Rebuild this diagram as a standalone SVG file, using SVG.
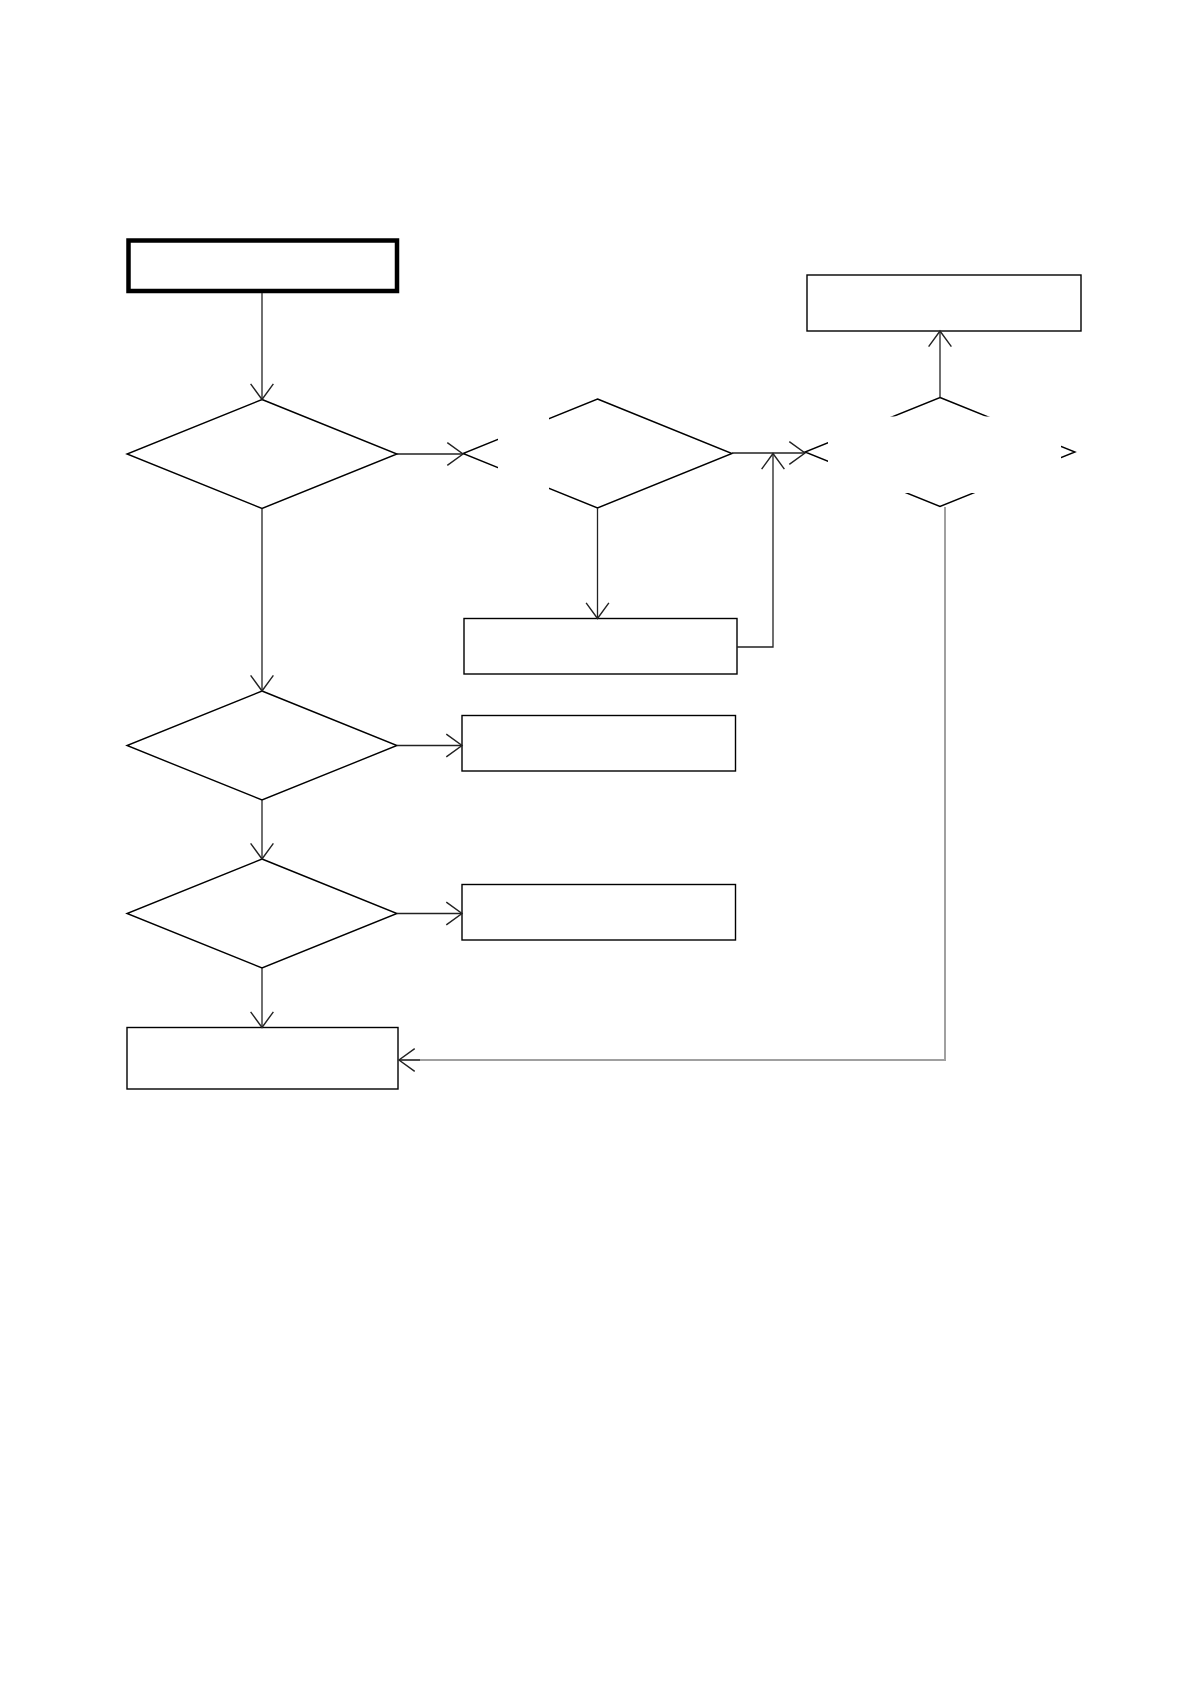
<svg xmlns="http://www.w3.org/2000/svg" width="1191" height="1685" viewBox="0 0 1191 1685">
<style>
.node{fill:#fff;stroke:#000;stroke-width:1.4}
.start{fill:#fff;stroke:#000;stroke-width:4.5}
.mask{fill:#fff;stroke:none}
.conn{fill:none;stroke:#222;stroke-width:1.3}
.conn-gray{fill:none;stroke:#a0a0a0;stroke-width:2}
</style>
<defs>
<marker id="arrow" markerUnits="userSpaceOnUse" markerWidth="24" markerHeight="26" viewBox="-17 -12 19 24" refX="0" refY="0" orient="auto">
<path d="M -14.5 -10.5 L 0 0 L -14.5 10.5" fill="none" stroke="#222" stroke-width="1.3"/>
</marker>
</defs>
<rect width="1191" height="1685" fill="#fff"/>
<g id="nodes">
<g id="start"><rect class="start" x="128.5" y="240.5" width="268.5" height="50.5"/></g>
<g id="d1"><polygon class="node" points="262,399.5 397,454 262,508.5 127,454"/></g>
<g id="d2"><polygon class="node" points="597.5,399 732,453.5 597.5,508 463,453.5"/><rect class="mask" x="498" y="417" width="51" height="73"/></g>
<g id="d3"><polygon class="node" points="940,397.5 1075,452 940,506.5 805,452"/><rect class="mask" x="828" y="416.5" width="233" height="76.5"/></g>
<g id="boxTR"><rect class="node" x="807" y="275" width="274" height="56"/></g>
<g id="boxB"><rect class="node" x="464" y="618.5" width="273" height="55.5"/></g>
<g id="d4"><polygon class="node" points="262,691 397,745.5 262,800 127,745.5"/></g>
<g id="boxC"><rect class="node" x="462" y="715.5" width="273.5" height="55.5"/></g>
<g id="d5"><polygon class="node" points="262,859 397,913.5 262,968 127,913.5"/></g>
<g id="boxD"><rect class="node" x="462" y="884.5" width="273.5" height="55.5"/></g>
<g id="end"><rect class="node" x="127" y="1027.5" width="271" height="61.5"/></g>
</g>
<g id="connectors">
<path class="conn" d="M262 293 V399.5" marker-end="url(#arrow)"/>
<path class="conn" d="M397 454 H463" marker-end="url(#arrow)"/>
<path class="conn" d="M262 508.5 V691" marker-end="url(#arrow)"/>
<path class="conn" d="M597.5 508 V618.5" marker-end="url(#arrow)"/>
<path class="conn" d="M737 647 H773 V453.5" marker-end="url(#arrow)"/>
<path class="conn" d="M732 453 H805" marker-end="url(#arrow)"/>
<path class="conn" d="M940 397.5 V331" marker-end="url(#arrow)"/>
<path class="conn-gray" d="M945 507 V1060 H399"/>
<path class="conn" d="M420 1060 H399" marker-end="url(#arrow)"/>
<path class="conn" d="M397 745.5 H462" marker-end="url(#arrow)"/>
<path class="conn" d="M262 800 V859" marker-end="url(#arrow)"/>
<path class="conn" d="M397 913.5 H462" marker-end="url(#arrow)"/>
<path class="conn" d="M262 968 V1027.5" marker-end="url(#arrow)"/>
</g>
</svg>
